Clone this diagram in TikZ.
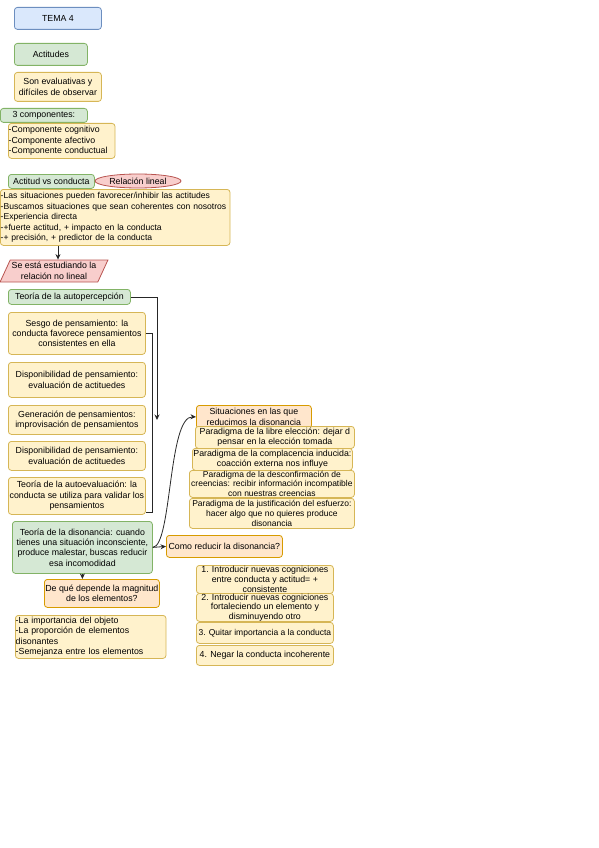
\documentclass[tikz,border=0pt]{standalone}
\usepackage{fontspec}
\setmainfont{Liberation Sans}
\usetikzlibrary{arrows.meta,shapes.geometric}
\definecolor{bluef}{HTML}{DAE8FC}\definecolor{blued}{HTML}{6C8EBF}
\definecolor{greenf}{HTML}{D5E8D4}\definecolor{greend}{HTML}{82B366}
\definecolor{yelf}{HTML}{FFF2CC}\definecolor{yeld}{HTML}{D6B656}
\definecolor{orf}{HTML}{FFE6CC}\definecolor{ord}{HTML}{D79B00}
\definecolor{redf}{HTML}{F8CECC}\definecolor{redd}{HTML}{B85450}
\tikzset{
  box/.style={draw, rounded corners=3pt, line width=0.8pt, anchor=north west,
    inner sep=0.3pt, align=center, font=\fontsize{8.8}{10.4}\selectfont},
  bluebox/.style={box, fill=bluef, draw=blued},
  greenbox/.style={box, fill=greenf, draw=greend},
  yelbox/.style={box, fill=yelf, draw=yeld},
  orbox/.style={box, fill=orf, draw=ord},
  leftbox/.style={align=left},
  smalltext/.style={font=\fontsize{8.5}{9.6}\selectfont},
  tighttext/.style={font=\fontsize{8.8}{9.6}\selectfont},
  conn/.style={draw=black!85, line width=0.8pt},
  arr/.style={conn, -{Stealth[length=5.5pt,width=5pt]}},
}
\begin{document}
\begin{tikzpicture}[x=1pt,y=-1pt]
\useasboundingbox (0,0) rectangle (599,848);
\node[bluebox, minimum width=87pt, minimum height=22pt] (tema) at (14,7) {TEMA 4};
\node[greenbox, minimum width=73pt, minimum height=22pt] (acti) at (14,43) {Actitudes};
\node[yelbox, minimum width=87pt, minimum height=29pt] (son) at (14,72) {Son evaluativas y\\difíciles de observar};
\node[greenbox, minimum width=87pt, minimum height=14pt] (comp) at (0,108) {3 componentes:};
\node[yelbox, leftbox, text width=106pt, minimum height=35pt] (clist) at (8,123) {-Componente cognitivo\\-Componente afectivo\\-Componente conductual};
\node[greenbox, minimum width=86pt, minimum height=14pt] (avc) at (8,174) {Actitud vs conducta};
\node[draw=redd, fill=redf, ellipse, line width=0.8pt, inner sep=0pt, minimum width=86pt, minimum height=14pt, font=\fontsize{8.8}{10.4}\selectfont] (rel) at (138,181) {Relación lineal};
\node[yelbox, leftbox, text width=229pt, minimum height=56pt, font=\fontsize{8.6}{10.5}\selectfont] (big) at (0,189) {-Las situaciones pueden favorecer/inhibir las actitudes\\-Buscamos situaciones que sean coherentes con nosotros\\-Experiencia directa\\-+fuerte actitud, + impacto en la conducta\\-+ precisión, + predictor de la conducta};
\node[trapezium, trapezium left angle=60, trapezium right angle=120, trapezium stretches=true, draw=redd, fill=redf, line width=0.8pt, inner sep=0pt, minimum width=108pt, minimum height=22pt, align=center, font=\fontsize{8.8}{10.4}\selectfont] (para) at (54,271) {Se está estudiando la\\relación no lineal};
\node[greenbox, minimum width=122pt, minimum height=15pt] (autop) at (8,289) {Teoría de la autopercepción};
\node[yelbox, minimum width=137pt, minimum height=42pt] (sesgo) at (8,312) {Sesgo de pensamiento: la\\conducta favorece pensamientos\\consistentes en ella};
\node[yelbox, minimum width=137pt, minimum height=35pt] (disp1) at (8,362) {Disponibilidad de pensamiento:\\evaluación de actituedes};
\node[yelbox, minimum width=137pt, minimum height=29pt] (gen) at (8,405) {Generación de pensamientos:\\improvisación de pensamientos};
\node[yelbox, minimum width=137pt, minimum height=29pt] (disp2) at (8,441) {Disponibilidad de pensamiento:\\evaluación de actituedes};
\node[yelbox, minimum width=137pt, minimum height=37pt] (autoev) at (8,477) {Teoría de la autoevaluación: la\\conducta se utiliza para validar los\\pensamientos};
\node[greenbox, minimum width=140pt, minimum height=52pt] (dison) at (12,521) {Teoría de la disonancia: cuando\\tienes una situación inconsciente,\\produce malestar, buscas reducir\\esa incomodidad};
\node[orbox, minimum width=115pt, minimum height=28pt] (dep) at (44,579) {De qué depende la magnitud\\de los elementos?};
\node[yelbox, leftbox, text width=150pt, minimum height=43pt] (fact) at (15,615) {-La importancia del objeto\\-La proporción de elementos\\disonantes\\-Semejanza entre los elementos};
\node[orbox, minimum width=116pt, minimum height=22pt] (como) at (166,535) {Como reducir la disonancia?};
\node[orbox, minimum width=115pt, minimum height=23pt] (sit) at (196,405) {Situaciones en las que\\reducimos la disonancia};
\node[yelbox, minimum width=159pt, minimum height=22pt] (p1) at (195,426) {Paradigma de la libre elección: dejar d\\pensar en la elección tomada};
\node[yelbox, minimum width=160pt, minimum height=22pt] (p2) at (192,448) {Paradigma de la complacencia inducida:\\coacción externa nos influye};
\node[yelbox, smalltext, minimum width=165pt, minimum height=27pt] (p3) at (189,470) {Paradigma de la desconfirmación de\\creencias: recibir información incompatible\\con nuestras creencias};
\node[yelbox, smalltext, minimum width=165pt, minimum height=30pt] (p4) at (189,498) {Paradigma de la justificación del esfuerzo:\\hacer algo que no quieres produce\\disonancia};
\node[yelbox, tighttext, minimum width=137pt, minimum height=28pt] (r1) at (196,565) {1. Introducir nuevas cogniciones\\entre conducta y actitud= +\\consistente};
\node[yelbox, tighttext, minimum width=137pt, minimum height=28pt] (r2) at (196,593) {2. Introducir nuevas cogniciones\\fortaleciendo un elemento y\\disminuyendo otro};
\node[yelbox, smalltext, minimum width=137pt, minimum height=21pt] (r3) at (196,622) {3. Quitar importancia a la conducta};
\node[yelbox, minimum width=137pt, minimum height=20pt] (r4) at (196,645) {4. Negar la conducta incoherente};
% connectors
\coordinate (apend) at (157,420);
\draw[arr] ([xshift=4pt]para.north |- big.south) -- ([xshift=4pt]para.north);
\draw[arr] (autop.east) -| (apend);
\draw[conn] (sesgo.east) -- ++(7,0) |- ([yshift=2pt]autoev.south east);
\draw[arr] (dison.east) .. controls (172,546) and (168,416) .. (sit.west);
\draw[arr] (dison.east) -- (como.west);
\draw[arr] (dison.south) -- (dison.south |- dep.north);
\end{tikzpicture}
\end{document}
